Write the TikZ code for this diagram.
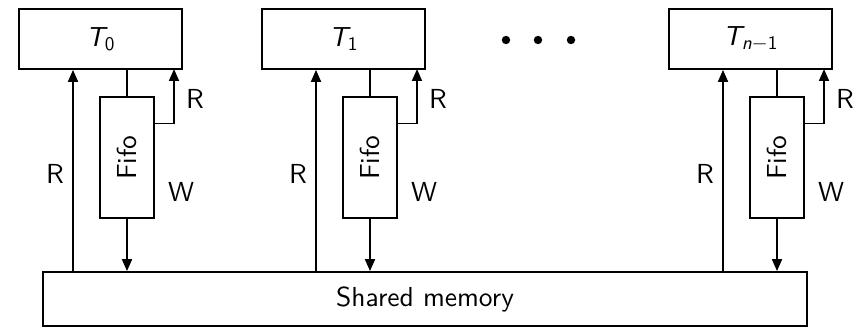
\documentclass[tikz,border=0pt]{standalone}
\usepackage{amsmath}
\usepackage{fontspec}
\setsansfont{lmsans10-regular.otf}[ItalicFont=lmsans10-oblique.otf]
\usetikzlibrary{arrows.meta,calc}
\begin{document}
\begin{tikzpicture}[x=1pt,y=-1pt,
  every node/.style={font=\sffamily\fontsize{27.5}{32}\selectfont},
  tbox/.style={draw,line width=1.8pt,minimum width=163pt,minimum height=60pt,inner sep=0pt},
  fbox/.style={draw,line width=1.8pt,minimum width=54pt,minimum height=121pt,inner sep=0pt},
  mbox/.style={draw,line width=1.8pt,minimum width=764pt,minimum height=54pt,inner sep=0pt},
  conn/.style={line width=1.8pt},
  arr/.style={line width=1.8pt,-{Triangle[length=12pt,width=10pt]}},
  lbl/.style={inner sep=0pt}]
\useasboundingbox (0,0) rectangle (858,331);
\node[mbox] (mem) at (425,299) {Shared memory};
\foreach \d/\lab/\n in {0/{$\textsf{\itshape T}_{\textsf{0}}$}/0,
                        243/{$\textsf{\itshape T}_{\textsf{1}}$}/1,
                        650/{$\textsf{\itshape T}_{\textsf{\itshape n}-\textsf{1}}$}/2}{
  \node[tbox] (T\n) at (100.5+\d,39) {\lab};
  \node[fbox] (F\n) at (127+\d,157.5) {\rotatebox{90}{Fifo}};
  \coordinate (L\n) at (73+\d,272);
  \coordinate (Q\n) at ($(F\n.north east)!0.223!(F\n.south east)$);
  \coordinate (U\n) at (174+\d,69);
  \draw[arr] (L\n) -- (L\n |- T\n.south);
  \draw[conn] (F\n.north) -- (F\n.north |- T\n.south);
  \draw[arr] (Q\n) -| (U\n);
  \draw[arr] (F\n.south) -- (F\n.south |- mem.north);
  \node[lbl] (RL\n) at (55+\d,174) {R};
  \node[lbl] (W\n) at (181+\d,192) {W};
  \node[lbl] (RR\n) at (195+\d,99) {R};
}
\foreach \x/\n in {506/a,538/b,571/c}{
  \fill (\x,40) circle (4.2pt);
}
\end{tikzpicture}
\end{document}
